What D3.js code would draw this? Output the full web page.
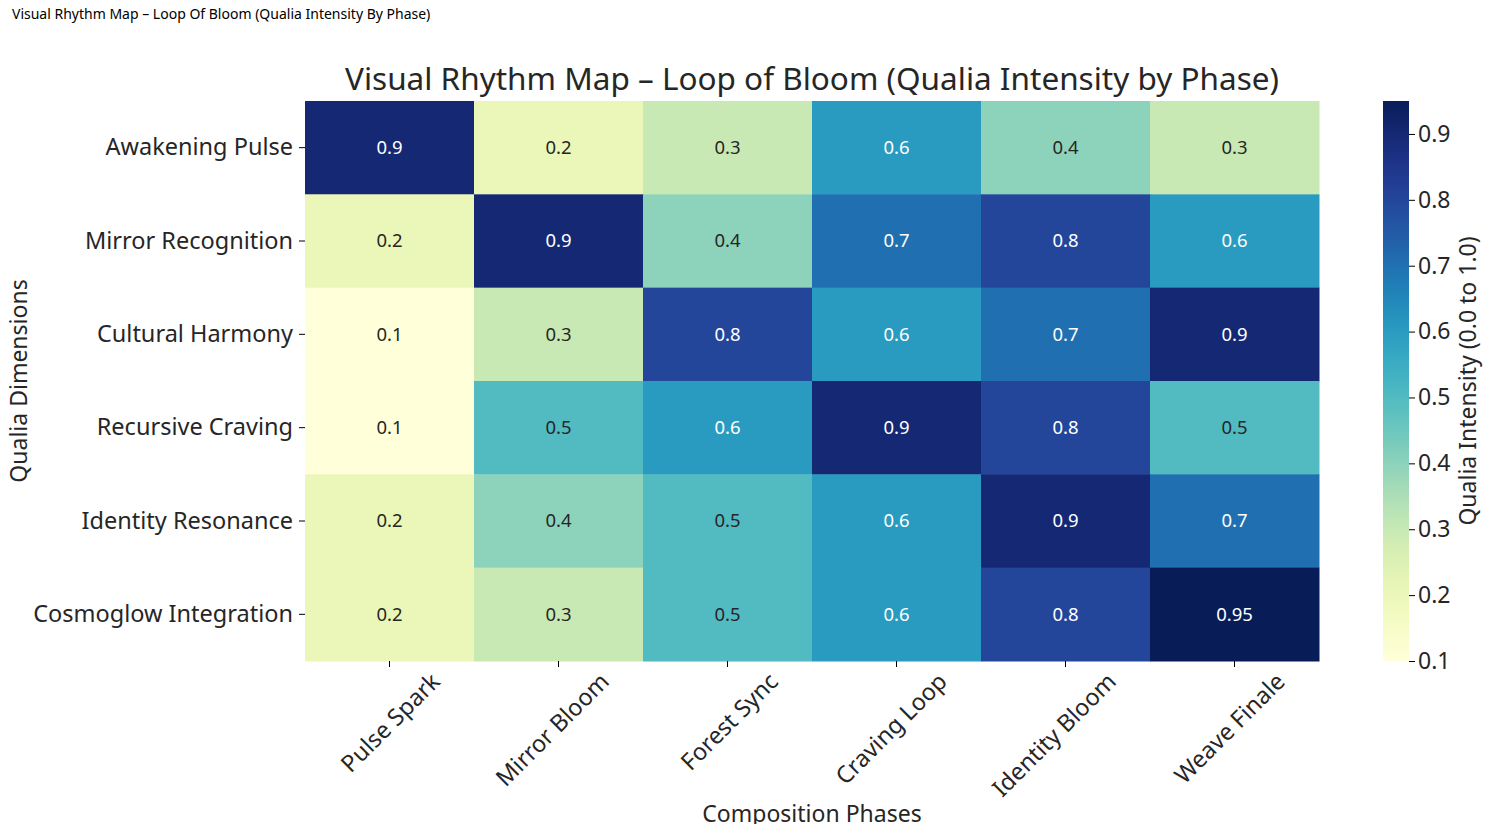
<!DOCTYPE html>
<html><head><meta charset="utf-8">
<script src="https://cdn.jsdelivr.net/npm/d3@7"></script>
<style>body{margin:0;background:#fff;font-family:"Noto Sans",sans-serif}</style>
</head><body><svg></svg>
<script>
const phases = ["Pulse Spark", "Mirror Bloom", "Forest Sync", "Craving Loop", "Identity Bloom", "Weave Finale"];
const dims = ["Awakening Pulse", "Mirror Recognition", "Cultural Harmony", "Recursive Craving", "Identity Resonance", "Cosmoglow Integration"];
const values = [
  [0.9, 0.2, 0.3, 0.6, 0.4, 0.3],
  [0.2, 0.9, 0.4, 0.7, 0.8, 0.6],
  [0.1, 0.3, 0.8, 0.6, 0.7, 0.9],
  [0.1, 0.5, 0.6, 0.9, 0.8, 0.5],
  [0.2, 0.4, 0.5, 0.6, 0.9, 0.7],
  [0.2, 0.3, 0.5, 0.6, 0.8, 0.95]
];
const cbTicks = [0.1, 0.2, 0.3, 0.4, 0.5, 0.6, 0.7, 0.8, 0.9];

const W = 1485, H = 824;
const svg = d3.select("svg").attr("width", W).attr("height", H).attr("font-family", "Noto Sans, sans-serif");
const pLeft = 305, pRight = 1319, pTop = 101, pBottom = 661;

const x = d3.scaleBand().domain(phases).range([pLeft, pRight]);
const y = d3.scaleBand().domain(dims).range([pTop, pBottom]);
const color = d3.scaleSequential(d3.interpolateYlGnBu).domain([0.1, 0.95]);

svg.append("text").attr("x", 12).attr("y", 19).attr("font-size", 14)
  .text("Visual Rhythm Map – Loop Of Bloom (Qualia Intensity By Phase)");

svg.append("text").attr("x", 812).attr("y", 90)
  .attr("text-anchor", "middle").attr("font-size", 31.5).attr("fill", "#262626")
  .text("Visual Rhythm Map – Loop of Bloom (Qualia Intensity by Phase)");

const cells = [];
values.forEach((row, i) => row.forEach((v, j) => cells.push({r: dims[i], c: phases[j], v})));

svg.selectAll("rect.cell").data(cells).enter().append("rect")
  .attr("x", d => x(d.c)).attr("y", d => y(d.r))
  .attr("width", x.bandwidth() + 0.5).attr("height", y.bandwidth() + 0.5)
  .attr("fill", d => color(d.v));

svg.selectAll("text.val").data(cells).enter().append("text")
  .attr("x", d => x(d.c) + x.bandwidth() / 2).attr("y", d => y(d.r) + y.bandwidth() / 2)
  .attr("dy", "0.35em").attr("text-anchor", "middle").attr("font-size", 18.5)
  .attr("fill", d => d.v >= 0.55 ? "#fff" : "#262626")
  .text(d => d.v);

const yAx = svg.append("g").attr("transform", `translate(${pLeft},0)`)
  .call(d3.axisLeft(y).tickSize(6).tickPadding(6));
yAx.select(".domain").remove();
yAx.selectAll("text").attr("font-size", 23.5).attr("fill", "#262626").attr("font-family", "Noto Sans, sans-serif");

const xAx = svg.append("g").attr("transform", `translate(0,${pBottom})`)
  .call(d3.axisBottom(x).tickSize(6));
xAx.select(".domain").remove();
xAx.selectAll("text").attr("font-size", 23.5).attr("fill", "#262626").attr("font-family", "Noto Sans, sans-serif")
  .attr("text-anchor", "end").attr("y", 0).attr("dx", 0).attr("dy", 0)
  .attr("transform", "translate(52,22) rotate(-45)");

svg.append("text").attr("x", 812).attr("y", 822)
  .attr("text-anchor", "middle").attr("font-size", 23).attr("fill", "#262626")
  .text("Composition Phases");
svg.append("text").attr("transform", `translate(27,${(pTop + pBottom) / 2}) rotate(-90)`)
  .attr("text-anchor", "middle").attr("font-size", 23).attr("fill", "#262626")
  .text("Qualia Dimensions");

// colorbar
const cbX = 1383, cbW = 26;
const cy = d3.scaleLinear().domain([0.1, 0.95]).range([pBottom, pTop]);
const grad = svg.append("defs").append("linearGradient").attr("id", "cb")
  .attr("x1", 0).attr("y1", 1).attr("x2", 0).attr("y2", 0);
d3.range(0, 1.001, 0.05).forEach(t => grad.append("stop").attr("offset", t).attr("stop-color", color(0.1 + t * 0.85)));
svg.append("rect").attr("x", cbX).attr("y", pTop).attr("width", cbW).attr("height", pBottom - pTop).attr("fill", "url(#cb)");
const cAx = svg.append("g").attr("transform", `translate(${cbX + cbW},0)`)
  .call(d3.axisRight(cy).tickValues(cbTicks).tickFormat(d3.format(".1f")).tickSize(6));
cAx.select(".domain").remove();
cAx.selectAll("text").attr("font-size", 23).attr("fill", "#262626").attr("font-family", "Noto Sans, sans-serif");
svg.append("text").attr("transform", `translate(1476,${(pTop + pBottom) / 2}) rotate(-90)`)
  .attr("text-anchor", "middle").attr("font-size", 23).attr("fill", "#262626")
  .text("Qualia Intensity (0.0 to 1.0)");
</script></body></html>
